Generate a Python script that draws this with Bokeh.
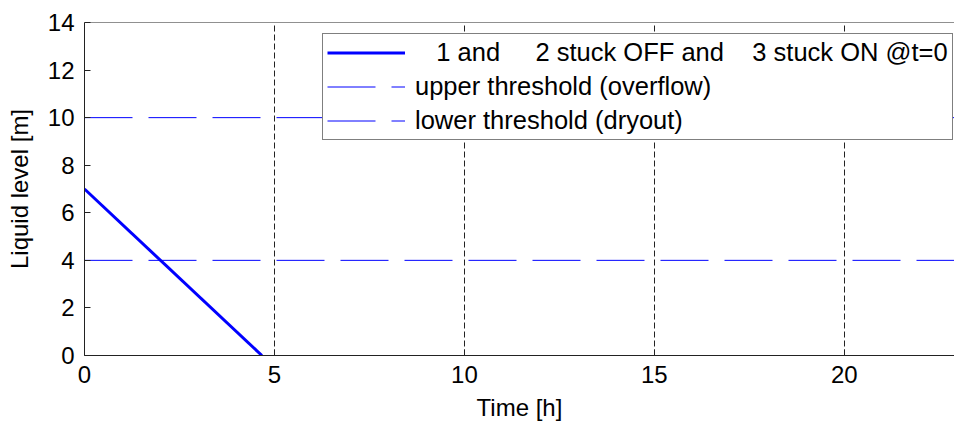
from bokeh.plotting import figure
from bokeh.models import Range1d, Legend, LegendItem, FixedTicker, Span
from bokeh.embed import file_html
from bokeh.resources import INLINE

# ---- data ----
time_h = [0.0, 4.67]
level_m = [7.0, 0.0]
upper_threshold = 10.0
lower_threshold = 4.0
x_ticks = [0, 5, 10, 15, 20]
y_ticks = [0, 2, 4, 6, 8, 10, 12, 14]
x_min, x_max = 0.0, 22.9
y_min, y_max = 0.0, 14.0

NB = "\u00a0"
label_main = NB * 3 + "1 and" + NB * 5 + "2 stuck OFF and" + NB * 4 + "3 stuck ON @t=0"
label_upper = "upper threshold (overflow)"
label_lower = "lower threshold (dryout)"

FONT = "Liberation Sans"

p = figure(width=954, height=427, output_backend="svg", toolbar_location=None,
           x_range=Range1d(x_min, x_max), y_range=Range1d(y_min, y_max),
           min_border_left=84, min_border_right=0, min_border_top=22, min_border_bottom=72)
p.outline_line_color = None
p.background_fill_color = "white"
p.border_fill_color = "white"

# grid: only vertical dashed lines
p.ygrid.grid_line_color = None
p.xgrid.grid_line_color = "#222222"
p.xgrid.grid_line_dash = "6 3"
p.xgrid.grid_line_width = 1
p.xgrid.ticker = FixedTicker(ticks=x_ticks)

for ax in (p.xaxis[0], p.yaxis[0]):
    ax.major_label_text_font = FONT
    ax.major_label_text_font_size = "24px"
    ax.major_label_text_color = "black"
    ax.axis_label_text_font = FONT
    ax.axis_label_text_font_size = "24px"
    ax.axis_label_text_font_style = "normal"
    ax.axis_label_text_color = "black"
    ax.axis_line_color = "#222222"
    ax.major_tick_line_color = "#222222"
    ax.major_tick_in = 6
    ax.major_tick_out = 0
    ax.minor_tick_line_color = None

p.xaxis.ticker = FixedTicker(ticks=x_ticks)
p.yaxis.ticker = FixedTicker(ticks=y_ticks)
p.xaxis.axis_label = "Time [h]"
p.yaxis.axis_label = "Liquid level [m]"
p.xaxis.major_label_standoff = 10
p.yaxis.major_label_standoff = 10
p.xaxis.axis_label_standoff = 8
p.yaxis.axis_label_standoff = 12

# top border
p.add_layout(Span(location=y_max, dimension="width", line_color="#222222", line_width=1))

r_up = p.line([x_min, x_max], [upper_threshold, upper_threshold], line_color="blue",
              line_width=1, line_dash="48 16")
r_lo = p.line([x_min, x_max], [lower_threshold, lower_threshold], line_color="blue",
              line_width=1, line_dash="48 16")
r_main = p.line(time_h, level_m, line_color="blue", line_width=3)

legend = Legend(items=[LegendItem(label=label_main, renderers=[r_main]),
                       LegendItem(label=label_upper, renderers=[r_up]),
                       LegendItem(label=label_lower, renderers=[r_lo])],
                location=(238, 215))
legend.label_text_font = FONT
legend.label_text_font_size = "25.5px"
legend.label_text_color = "black"
legend.glyph_width = 78
legend.glyph_height = 29
legend.label_height = 29
legend.label_standoff = 10
legend.padding = 4
legend.spacing = 5
legend.margin = 0
legend.border_line_color = "black"
legend.border_line_width = 1
legend.background_fill_color = "white"
legend.background_fill_alpha = 1.0
p.add_layout(legend, "center")

open("out.html", "w").write(file_html(p, INLINE))
